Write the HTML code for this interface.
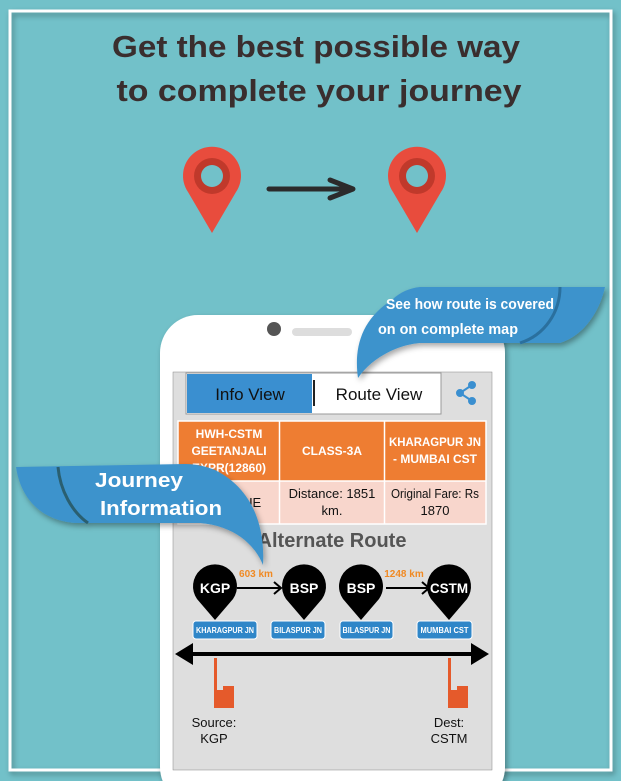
<!DOCTYPE html>
<html><head><meta charset="utf-8"><style>
html,body{margin:0;padding:0;background:#72c1c9;}
svg{display:block}
text{font-family:"Liberation Sans",sans-serif}
</style></head><body>
<svg width="621" height="781" viewBox="0 0 621 781" xmlns="http://www.w3.org/2000/svg">
<defs>
<filter id="sh" x="-20%" y="-20%" width="140%" height="140%"><feDropShadow dx="2" dy="3" stdDeviation="3" flood-color="#000" flood-opacity="0.35"/></filter>
</defs>
<rect width="621" height="781" fill="#72c1c9"/>
<rect x="10" y="11" width="601" height="759" fill="none" stroke="#fff" stroke-width="3" filter="url(#sh)"/>
<text x="316" y="57" text-anchor="middle" font-size="31" font-weight="bold" fill="#3a2e2e" textLength="408" lengthAdjust="spacingAndGlyphs">Get the best possible way</text>
<text x="319" y="101" text-anchor="middle" font-size="31" font-weight="bold" fill="#3a2e2e" textLength="405" lengthAdjust="spacingAndGlyphs">to complete your journey</text>
<g>
<path d="M212 233 L188 192 A29 29 0 1 1 236 192 Z" fill="#e84c3d"/>
<circle cx="212" cy="176" r="18" fill="#c0392b"/><circle cx="212" cy="176" r="11" fill="#72c1c9"/>
<path d="M417 233 L393 192 A29 29 0 1 1 441 192 Z" fill="#e84c3d"/>
<circle cx="417" cy="176" r="18" fill="#c0392b"/><circle cx="417" cy="176" r="11" fill="#72c1c9"/>
<path d="M269 189 H352 M330 180 L353 189 L330 198" stroke="#2b2b2b" stroke-width="5" fill="none" stroke-linecap="round" stroke-linejoin="round"/>
</g>
<rect x="160" y="315" width="345" height="490" rx="38" fill="#fff" filter="url(#sh)"/>
<circle cx="274" cy="329" r="7" fill="#555"/>
<rect x="292" y="328" width="60" height="8" rx="4" fill="#ddd"/>
<rect x="173" y="372" width="319" height="398" fill="#dedede" stroke="#888" stroke-width="0.5"/>
<rect x="186" y="373" width="255" height="41" fill="#fff" stroke="#999"/>
<rect x="187" y="374" width="125" height="39" fill="#3a8fd0"/>
<line x1="314" y1="380" x2="314" y2="406" stroke="#222" stroke-width="2"/>
<text x="250" y="400" text-anchor="middle" font-size="17" fill="#111">Info View</text>
<text x="379" y="400" text-anchor="middle" font-size="17" fill="#111">Route View</text>
<g fill="#3a8fd0" stroke="#3a8fd0" stroke-width="2"><circle cx="472" cy="385" r="3"/><circle cx="460" cy="393" r="3"/><circle cx="472" cy="401" r="3"/><path d="M472 385 L460 393 L472 401" fill="none"/></g>
<rect x="178" y="421" width="308" height="60" fill="#ee7d32"/>
<rect x="178" y="481" width="308" height="43" fill="#f8d6cc"/>
<g stroke="#fff" stroke-width="1.5"><line x1="279.5" y1="421" x2="279.5" y2="524"/><line x1="384.5" y1="421" x2="384.5" y2="524"/><line x1="178" y1="481" x2="486" y2="481"/><rect x="178" y="421" width="308" height="103" fill="none"/></g>
<g font-size="12" font-weight="bold" fill="#fff" text-anchor="middle">
<text x="229" y="438">HWH-CSTM</text><text x="229" y="455">GEETANJALI</text><text x="229" y="472">EXPR(12860)</text>
<text x="332" y="455">CLASS-3A</text>
<text x="435" y="446" textLength="92" lengthAdjust="spacingAndGlyphs">KHARAGPUR JN</text><text x="435" y="463">- MUMBAI CST</text>
</g>
<g font-size="13" fill="#111" text-anchor="middle">
<text x="229" y="507">OVERDUE</text>
<text x="332" y="498">Distance: 1851</text><text x="332" y="515">km.</text>
<text x="435" y="498" textLength="88" lengthAdjust="spacingAndGlyphs">Original Fare: Rs</text><text x="435" y="515">1870</text>
</g>
<text x="332" y="547" text-anchor="middle" font-size="20" font-weight="bold" fill="#555">Alternate Route</text>
<g fill="#000">
<path d="M215 620 L197 599 A22 22 0 1 1 233 599 Z"/>
<path d="M304 620 L286 599 A22 22 0 1 1 322 599 Z"/>
<path d="M361 620 L343 599 A22 22 0 1 1 379 599 Z"/>
<path d="M449 620 L431 599 A22 22 0 1 1 467 599 Z"/>
</g>
<g font-size="14" font-weight="bold" fill="#fff" text-anchor="middle">
<text x="215" y="593">KGP</text><text x="304" y="593">BSP</text><text x="361" y="593">BSP</text><text x="449" y="593" textLength="38" lengthAdjust="spacingAndGlyphs">CSTM</text>
</g>
<path d="M237 588 H280 M274 582 L281 588 L274 594 M386 588 H428 M422 582 L429 588 L422 594" stroke="#000" stroke-width="2" fill="none"/>
<g font-size="10" font-weight="bold" fill="#f08a24" text-anchor="middle"><text x="256" y="577">603 km</text><text x="404" y="577">1248 km</text></g>
<g fill="#2f86c8" stroke="#fff" stroke-width="1">
<rect x="193" y="621" width="64" height="18" rx="3"/><rect x="271" y="621" width="54" height="18" rx="3"/><rect x="340" y="621" width="53" height="18" rx="3"/><rect x="417" y="621" width="55" height="18" rx="3"/>
</g>
<g font-size="8" font-weight="bold" fill="#fff" text-anchor="middle">
<text x="225" y="633" textLength="58" lengthAdjust="spacingAndGlyphs">KHARAGPUR JN</text><text x="298" y="633" textLength="48" lengthAdjust="spacingAndGlyphs">BILASPUR JN</text><text x="366.5" y="633" textLength="48" lengthAdjust="spacingAndGlyphs">BILASPUR JN</text><text x="444.5" y="633" textLength="48" lengthAdjust="spacingAndGlyphs">MUMBAI CST</text>
</g>
<path d="M190 654 H474" stroke="#000" stroke-width="4"/>
<path d="M175 654 L193 643 L193 665 Z M489 654 L471 643 L471 665 Z" fill="#000"/>
<g fill="#e55a2b">
<rect x="214" y="658" width="3" height="50"/><rect x="214" y="690" width="20" height="18"/>
<rect x="448" y="658" width="3" height="50"/><rect x="448" y="690" width="20" height="18"/>
</g>
<path d="M217 690 h6 v-4 h11 v4 Z M451 690 h6 v-4 h11 v4 Z" fill="#e55a2b"/>
<g font-size="13" fill="#111" text-anchor="middle">
<text x="214" y="727">Source:</text><text x="214" y="743">KGP</text>
<text x="449" y="727">Dest:</text><text x="449" y="743">CSTM</text>
</g>
<g filter="url(#sh)">
<path d="M358 378 C354 350 360 320 392 300 C400 292 410 288 420 287 H605 C600 310 585 335 560 343 H420 C395 345 370 360 358 378 Z" fill="#3d93cc"/>
<path d="M560 287 C560 312 545 335 520 343" stroke="#2a6f9e" stroke-width="3" fill="none"/>
</g>
<text x="470" y="309" text-anchor="middle" font-size="15" font-weight="bold" fill="#fff" textLength="168" lengthAdjust="spacingAndGlyphs">See how route is covered</text>
<text x="448" y="334" text-anchor="middle" font-size="15" font-weight="bold" fill="#fff" textLength="140" lengthAdjust="spacingAndGlyphs">on on complete map</text>
<g filter="url(#sh)">
<path d="M16 467 C20 495 38 520 75 523 H200 C235 526 255 545 263 565 C265 530 255 490 215 470 C205 466 195 464 185 464 Z" fill="#3d93cc"/>
<path d="M58 467 C60 490 72 512 88 523" stroke="#2a5f70" stroke-width="3" fill="none"/>
</g>
<text x="95" y="487" font-size="20" font-weight="bold" fill="#fff" textLength="88" lengthAdjust="spacingAndGlyphs">Journey</text>
<text x="100" y="515" font-size="20" font-weight="bold" fill="#fff" textLength="122" lengthAdjust="spacingAndGlyphs">Information</text>
</svg>
</body></html>
